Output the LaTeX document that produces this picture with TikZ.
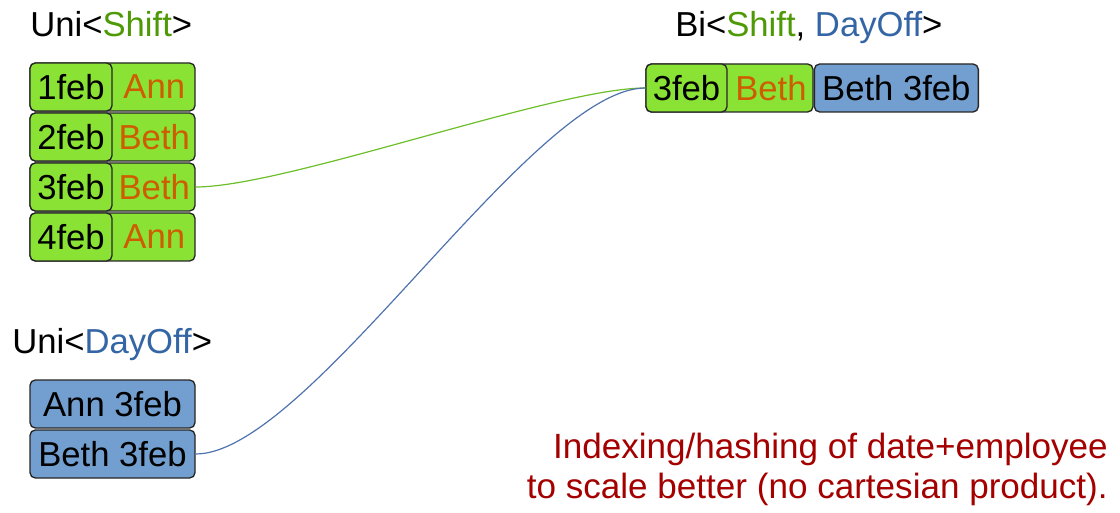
\documentclass[tikz,border=0pt]{standalone}
\usepackage{fontspec}
\setmainfont{Liberation Sans}
\usetikzlibrary{positioning}
\definecolor{shiftfill}{HTML}{8AE234}
\definecolor{dayofffill}{HTML}{729FCF}
\definecolor{shifttext}{HTML}{4E9A06}
\definecolor{dayofftext}{HTML}{3465A4}
\definecolor{emptext}{HTML}{CE5C00}
\definecolor{notetext}{HTML}{A40000}
\definecolor{shiftline}{HTML}{6CBF2A}
\definecolor{dayoffline}{HTML}{4F73AD}

\begin{document}
\begin{tikzpicture}[
    x=0.75pt, y=-0.75pt,
    cell/.style={draw=black!85, line width=1pt, rounded corners=4pt, inner sep=0pt, minimum height=36pt, font=\fontsize{26}{31}\selectfont},
    shiftrow/.style={cell, fill=shiftfill, minimum width=123.75pt},
    datecell/.style={cell, fill=shiftfill, minimum width=61.5pt},
    empcell/.style={inner sep=0pt, minimum width=62pt, minimum height=36pt, text=emptext, font=\fontsize{26}{31}\selectfont},
    dayoffrow/.style={cell, fill=dayofffill, minimum width=123.75pt},
    title/.style={inner sep=0pt, anchor=base west, font=\fontsize{26}{31}\selectfont},
    link/.style={line width=0.9pt, out=0, in=180, looseness=0.5}
]
\useasboundingbox (0,0) rectangle (1120,513);

% left side: Uni<Shift>
\node[title] (unishift) at (30,37) {Uni<\textcolor{shifttext}{Shift}>};
\foreach \d/\e [count=\i] in {1feb/Ann, 2feb/Beth, 3feb/Beth, 4feb/Ann} {
  \node[shiftrow] (shift\i) at (112.5,37+50*\i) {};
  \node[datecell, anchor=west] (date\i) at (shift\i.west) {\d};
  \node[empcell, right=0pt of date\i] (emp\i) {\e};
}

% left side: Uni<DayOff>
\node[title] (unidayoff) at (12,353) {Uni<\textcolor{dayofftext}{DayOff}>};
\node[dayoffrow] (off1) at (112.5,404) {Ann 3feb};
\node[dayoffrow] (off2) at (112.5,454) {Beth 3feb};

% right side: Bi<Shift, DayOff>
\node[title] (bititle) at (675,37) {Bi<\textcolor{shifttext}{Shift}, \textcolor{dayofftext}{DayOff}>};
\node[cell, fill=shiftfill, minimum width=125.25pt] (bishift) at (729.5,88) {};
\node[cell, fill=shiftfill, minimum width=60.75pt, anchor=west] (bidate) at (bishift.west) {3feb};
\node[empcell, minimum width=64.5pt, right=0pt of bidate] (biemp) {Beth};
\node[cell, fill=dayofffill, minimum width=123pt, anchor=west] (bioff) at (bishift.east) {Beth 3feb};

% joins
\draw[link, shiftline] (shift3.east) to (bishift.west);
\draw[link, dayoffline] (off2.east) to (bishift.west);

\node[inner sep=0pt, anchor=north east, align=right, text=notetext,
      font=\fontsize{26.3}{29.5}\selectfont] (note) at (1108,433)
  {Indexing/hashing of date+employee\\to scale better (no cartesian product).};
\end{tikzpicture}
\end{document}
